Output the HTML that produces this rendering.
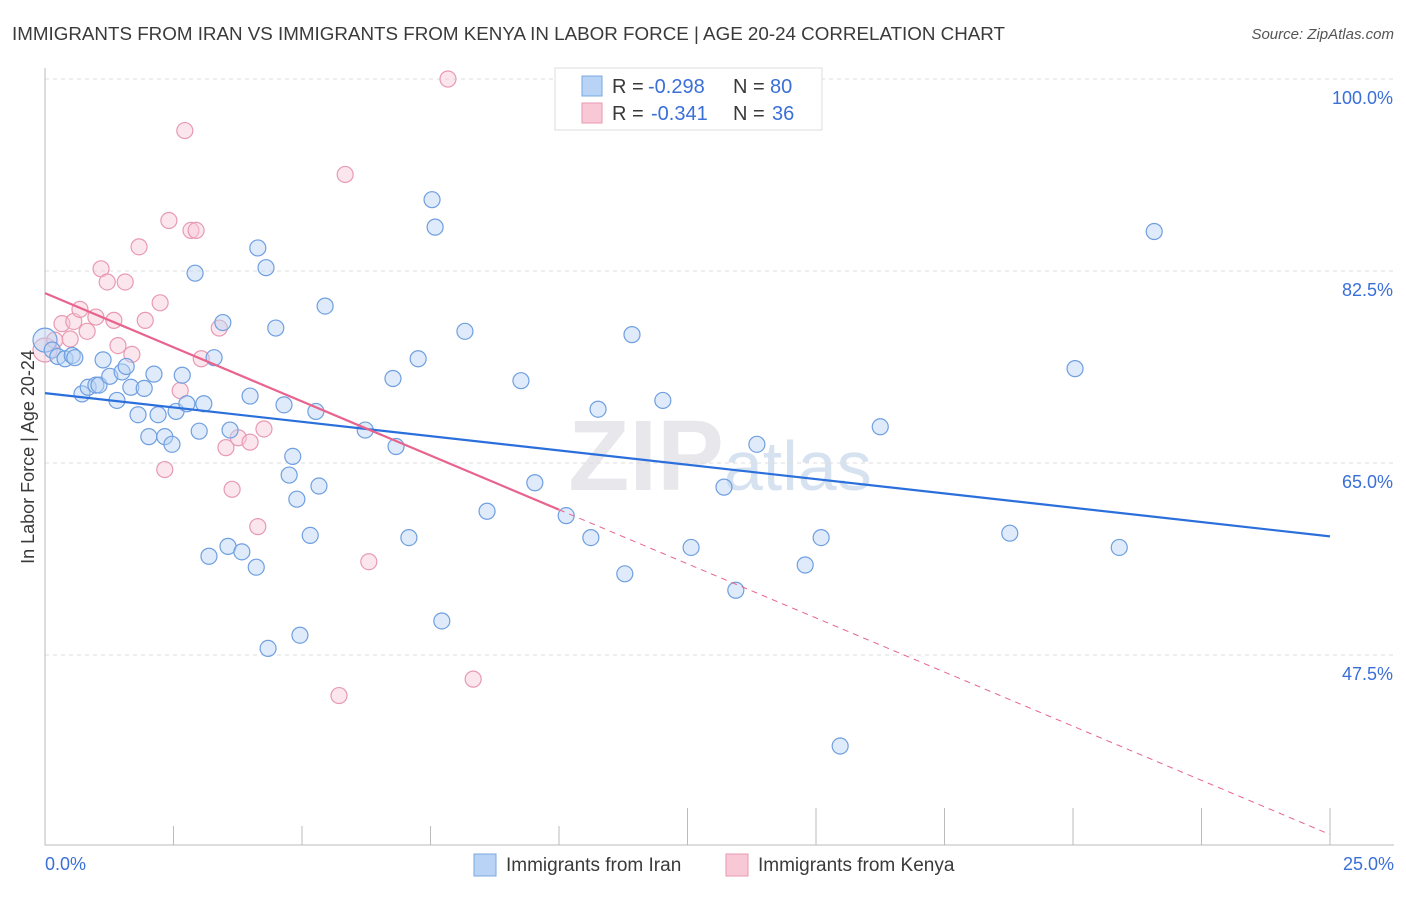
<!DOCTYPE html>
<html><head><meta charset="utf-8"><style>
body{margin:0;background:#fff;font-family:"Liberation Sans",sans-serif}
svg text{font-family:"Liberation Sans",sans-serif}
</style></head><body>
<svg width="1406" height="892">
<text x="12" y="40" font-size="18" fill="#3a3a3a" textLength="993" lengthAdjust="spacingAndGlyphs">IMMIGRANTS FROM IRAN VS IMMIGRANTS FROM KENYA IN LABOR FORCE | AGE 20-24 CORRELATION CHART</text>
<text x="1394" y="39" font-size="15" fill="#555" font-style="italic" text-anchor="end">Source: ZipAtlas.com</text>
<text x="720" y="490" font-size="100" fill="#e8e8ec" text-anchor="middle" font-weight="bold">ZIP<tspan font-size="70" font-weight="normal" fill="#d6e2f0">atlas</tspan></text>
<g id="grid"></g>
<g id="axes"></g>
<g id="marks"></g>
<text transform="translate(34,457) rotate(-90)" font-size="18" fill="#3a3a3a" text-anchor="middle">In Labor Force | Age 20-24</text>
<g>
<rect x="555" y="68" width="267" height="62" fill="#fff" stroke="#ddd"/>
<rect x="582" y="76" width="20" height="20" fill="#b8d3f5" stroke="#7aa8e0"/>
<rect x="582" y="103" width="20" height="20" fill="#f8c8d6" stroke="#e89ab2"/>
<text y="93" font-size="20" fill="#3a3a3a"><tspan x="612">R =</tspan><tspan x="648" fill="#3a6fd8">-0.298</tspan><tspan x="733">N =</tspan><tspan x="770" fill="#3a6fd8">80</tspan></text>
<text y="120" font-size="20" fill="#3a3a3a"><tspan x="612">R =</tspan><tspan x="651" fill="#3a6fd8">-0.341</tspan><tspan x="733">N =</tspan><tspan x="772" fill="#3a6fd8">36</tspan></text>
</g>
<g>
<rect x="474" y="854" width="22" height="22" fill="#b8d3f5" stroke="#7aa8e0"/>
<text x="506" y="871" font-size="19" fill="#3a3a3a">Immigrants from Iran</text>
<rect x="726" y="854" width="22" height="22" fill="#f8c8d6" stroke="#e89ab2"/>
<text x="758" y="871" font-size="19" fill="#3a3a3a">Immigrants from Kenya</text>
</g>
</svg>
<script>
const yTicks=[100,82.5,65,47.5];
const yTickLabels=["100.0%","82.5%","65.0%","47.5%"];
const xTickLabels=["0.0%","25.0%"];
const iranX=[0,0.14,0.25,0.39,0.53,0.58,1.13,0.72,0.84,0.99,1.05,1.26,1.5,1.58,1.4,1.67,1.93,1.81,2.02,2.2,2.33,2.47,2.55,2.67,2.12,2.76,2.92,3.0,3.09,3.19,3.29,3.46,3.6,3.56,3.83,3.99,4.11,4.14,4.3,4.34,4.49,4.65,4.75,4.82,4.9,4.96,5.16,5.27,5.33,5.45,6.23,6.77,6.83,7.08,7.26,7.53,7.59,7.72,8.17,8.6,9.26,9.53,10.14,10.62,10.76,11.28,11.42,12.02,12.57,13.21,13.44,13.85,14.79,15.1,15.47,16.25,18.77,20.04,20.9,21.58];
const iranY=[76.2,75.3,74.7,74.5,74.8,74.6,74.4,71.3,71.9,72.1,72.1,72.9,73.3,73.8,70.7,71.9,71.8,69.4,67.4,69.4,67.4,66.7,69.7,73.0,73.1,70.4,82.3,67.9,70.4,56.5,74.6,77.8,68.0,57.4,56.9,71.1,55.5,84.6,82.8,48.1,77.3,70.3,63.9,65.6,61.7,49.3,58.4,69.7,62.9,79.3,68.0,72.7,66.5,58.2,74.5,89.0,86.5,50.6,77.0,60.6,72.5,63.2,60.2,58.2,69.9,54.9,76.7,70.7,57.3,62.8,53.4,66.7,55.7,58.2,39.2,68.3,58.6,73.6,57.3,86.1];
const kenyaX=[0,0.19,0.33,0.49,0.56,0.68,0.82,0.99,1.09,1.21,1.34,1.56,1.42,1.69,1.83,1.95,2.24,2.33,2.41,2.63,2.72,2.84,2.94,3.04,3.39,3.52,3.64,3.76,3.99,4.14,4.26,5.72,5.84,6.3,7.84,8.33];
const kenyaY=[75.3,76.2,77.7,76.3,77.9,79.0,77.0,78.3,82.7,81.5,78.0,81.5,75.7,74.9,84.7,78.0,79.6,64.4,87.1,71.6,95.3,86.2,86.2,74.5,77.3,66.4,62.6,67.3,66.9,59.2,68.1,43.8,91.3,56.0,100.0,45.3];
const xs=v=>45+v/25*1285, ys=v=>79+(100-v)*10.971;
const NS='http://www.w3.org/2000/svg';
function mk(p,t,a){const e=document.createElementNS(NS,t);for(const k in a)e.setAttribute(k,a[k]);p.appendChild(e);return e;}
const grid=document.getElementById('grid'),axes=document.getElementById('axes'),marks=document.getElementById('marks');
yTicks.forEach((t,i)=>{
 const l=mk(grid,'line',{x1:45,x2:1394,y1:ys(t),y2:ys(t),stroke:'#ddd','stroke-dasharray':'4,4'});
 
 
 const tx=mk(axes,'text',{x:1393,y:ys(t)+25,'font-size':18,fill:'#3a6fd8','text-anchor':'end'});tx.textContent=yTickLabels[i];
 
 
});
const ax=mk(axes,'path',{d:'M45,68 V845 H1394',stroke:'#bbb',fill:'none'});


for(let i=1;i<=10;i++){const x=xs(i*2.5);const tk=mk(axes,'line',{x1:x,x2:x,y1:(i>=5?808:826),y2:845,stroke:'#bbb'});
 
 }
[[0,45,'start'],[25,1394,'end']].forEach((d,i)=>{const t=mk(axes,'text',{x:d[1],y:870,'font-size':18,fill:'#3a6fd8','text-anchor':d[2]});t.textContent=xTickLabels[i];
 
 });
function pts(X,Y,fill,stroke,name){X.forEach((x,i)=>{const c=mk(marks,'circle',{cx:xs(x),cy:ys(Y[i]),r:i==0?12:8,fill:fill,'fill-opacity':0.45,stroke:stroke,'stroke-width':1.2});
 
 });}
pts(kenyaX,kenyaY,'#f8c8d6','#e89ab2','kenya-point');
pts(iranX,iranY,'#b8d3f5','#6f9fe0','iran-point');
function fit(X,Y){const n=X.length,mx=X.reduce((a,b)=>a+b)/n,my=Y.reduce((a,b)=>a+b)/n;let sxy=0,sxx=0;X.forEach((x,i)=>{sxy+=(x-mx)*(Y[i]-my);sxx+=(x-mx)**2});const b=sxy/sxx;return[my-b*mx,b];}
const fi=fit(iranX,iranY),fk=fit(kenyaX,kenyaY);
let l=mk(marks,'line',{x1:xs(0),y1:ys(fi[0]),x2:xs(25),y2:ys(fi[0]+fi[1]*25),stroke:'#2a6fdb','stroke-width':2.2});


l=mk(marks,'line',{x1:xs(0),y1:ys(fk[0]),x2:xs(10),y2:ys(fk[0]+fk[1]*10),stroke:'#e8648e','stroke-width':2.2});


l=mk(marks,'line',{x1:xs(10),y1:ys(fk[0]+fk[1]*10),x2:xs(25),y2:ys(fk[0]+fk[1]*25),stroke:'#e8648e','stroke-width':1,'stroke-dasharray':'6,5'});


</script>
</body></html>
